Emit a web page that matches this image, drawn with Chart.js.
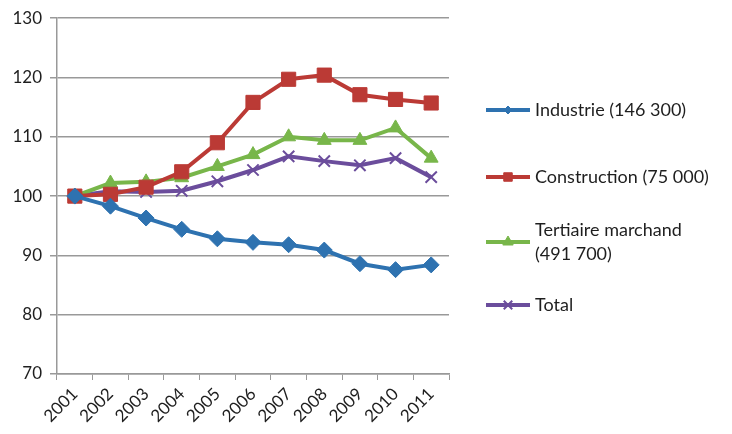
<!DOCTYPE html>
<html>
<head>
<meta charset="utf-8">
<script src="https://cdn.jsdelivr.net/npm/chart.js@4"></script>
<style>
  html, body { margin: 0; padding: 0; background: #fff; }
  #wrap { width: 732px; height: 434px; position: relative; }
</style>
</head>
<body>
<div id="wrap"><canvas id="chart"></canvas></div>
<script>
  var years = ['2001', '2002', '2003', '2004', '2005', '2006', '2007', '2008', '2009', '2010', '2011'];
  var industrie = [100, 98.3, 96.3, 94.4, 92.8, 92.2, 91.8, 90.9, 88.6, 87.6, 88.4];
  var construction = [100, 100.3, 101.5, 104.1, 109, 115.8, 119.7, 120.4, 117.1, 116.3, 115.7];
  var tertiaire = [100, 102.2, 102.4, 103.1, 105, 107, 110, 109.4, 109.4, 111.5, 106.4];
  var total = [100, 100.8, 100.7, 100.9, 102.5, 104.4, 106.7, 105.9, 105.2, 106.4, 103.2];
  var seriesNames = [['Industrie (146 300)'], ['Construction (75 000)'], ['Tertiaire marchand', '(491 700)'], ['Total']];
  var yTicks = [70, 80, 90, 100, 110, 120, 130];

  var FONT = 'Lato, "Open Sans", sans-serif';

  function serie(label, data, color, style, radius) {
    return {
      label: label,
      data: data,
      borderColor: color,
      backgroundColor: color,
      borderWidth: 4,
      pointStyle: style,
      pointRadius: radius,
      pointBorderWidth: style === 'crossRot' ? 2 : 1,
      pointBorderColor: color,
      pointBackgroundColor: color,
      tension: 0
    };
  }

  // legend drawn at the right, line + small marker like the original
  var legendRadius = [4, 6, 6, 6];
  var sideLegend = {
    id: 'sideLegend',
    afterDraw: function (chart) {
      var ctx = chart.ctx;
      var rows = [110, 177, 242, 305];
      ctx.save();
      chart.data.datasets.forEach(function (ds, i) {
        var y = rows[i];
        ctx.strokeStyle = ds.borderColor;
        ctx.lineWidth = 4;
        ctx.beginPath();
        ctx.moveTo(486, y);
        ctx.lineTo(530, y);
        ctx.stroke();
        ctx.fillStyle = ds.backgroundColor;
        ctx.lineWidth = ds.pointBorderWidth;
        Chart.helpers.drawPoint(ctx, {
          pointStyle: ds.pointStyle,
          radius: legendRadius[i],
          borderWidth: ds.pointBorderWidth,
          rotation: 0
        }, 508, y);
        ctx.fillStyle = '#1e1e1e';
        ctx.font = '18px ' + FONT;
        ctx.textBaseline = 'middle';
        var lines = seriesNames[i];
        var y0 = y - (lines.length - 1) * 12;
        lines.forEach(function (t, k) {
          ctx.fillText(t, 535, y0 + k * 24);
        });
      });
      ctx.restore();
    }
  };

  var config = {
    type: 'line',
    data: {
      labels: years,
      datasets: [
        serie('Industrie', industrie, '#2e72b0', 'rectRot', 8),
        serie('Construction', construction, '#bb3a35', 'rect', 10),
        serie('Tertiaire marchand', tertiaire, '#78b64a', 'triangle', 8),
        serie('Total', total, '#6b4d9c', 'crossRot', 8)
      ]
    },
    options: {
      responsive: true,
      maintainAspectRatio: false,
      animation: false,
      layout: { padding: { top: 13, right: 283, left: 0, bottom: 0 } },
      plugins: {
        legend: { display: false },
        tooltip: { enabled: false }
      },
      scales: {
        x: {
          offset: true,
          grid: { drawOnChartArea: false, drawTicks: true, tickLength: 6, color: '#999', offset: true },
          border: { color: '#999', width: 1.5 },
          ticks: {
            minRotation: 45, maxRotation: 45,
            color: '#1e1e1e',
            font: { family: FONT, size: 17 },
            padding: 4
          },
          afterFit: function (scale) { scale.height = 60; }
        },
        y: {
          min: 70, max: 130,
          afterBuildTicks: function (scale) {
            scale.ticks = yTicks.map(function (v) { return { value: v }; });
          },
          grid: { color: '#999', lineWidth: 1.5, tickLength: 7 },
          border: { color: '#999', width: 1.5 },
          ticks: {
            color: '#1e1e1e',
            font: { family: FONT, size: 17 },
            padding: 8
          },
          afterFit: function (scale) { scale.width = 57; }
        }
      }
    },
    plugins: [sideLegend]
  };

  new Chart(document.getElementById('chart').getContext('2d'), config);
</script>
</body>
</html>
